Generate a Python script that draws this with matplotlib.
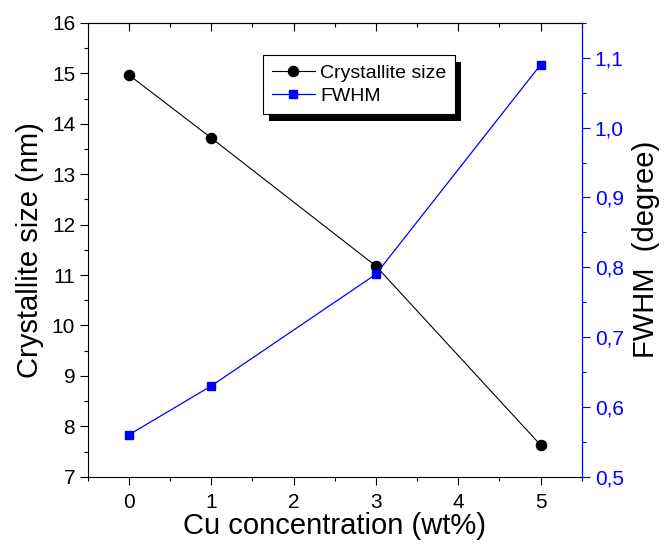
import matplotlib
matplotlib.use("Agg")
import matplotlib.pyplot as plt
from matplotlib.ticker import MultipleLocator, FuncFormatter
from matplotlib.patches import Rectangle

plt.rcParams['font.family'] = ['Liberation Sans', 'DejaVu Sans']

# data
cu = [0, 1, 3, 5]
crystallite = [14.97, 13.72, 11.18, 7.63]
fwhm = [0.56, 0.63, 0.79, 1.09]

fig = plt.figure(figsize=(6.65, 5.51), dpi=100)
ax = fig.add_axes([0.1319, 0.1348, 0.7428, 0.8235])
ax2 = ax.twinx()

l1, = ax.plot(cu, crystallite, '-o', color='black', lw=0.8, ms=7.3)
l2, = ax2.plot(cu, fwhm, '-s', color='blue', lw=0.9, ms=5.8)

ax.set_xlim(-0.5, 5.5)
ax.set_ylim(7, 16)
ax2.set_ylim(0.5, 1.15)

ax.xaxis.set_major_locator(MultipleLocator(1))
ax.xaxis.set_minor_locator(MultipleLocator(0.5))
ax.yaxis.set_major_locator(MultipleLocator(1))
ax.yaxis.set_minor_locator(MultipleLocator(0.5))
ax2.yaxis.set_major_locator(MultipleLocator(0.1))
ax2.yaxis.set_minor_locator(MultipleLocator(0.05))
ax2.yaxis.set_major_formatter(FuncFormatter(lambda v, p: ('%.1f' % v).replace('.', ',')))

ax.tick_params(axis='y', which='major', direction='out', length=5.5, width=0.8,
               labelsize=15, pad=3.5)
ax.tick_params(axis='y', which='minor', direction='out', length=3, width=0.8)
ax.tick_params(axis='x', which='major', direction='out', length=5.5, width=0.8,
               labelsize=15, pad=6)
ax.tick_params(axis='x', which='minor', direction='out', length=3, width=0.8)
ax2.tick_params(axis='y', which='major', direction='out', length=5.5, width=0.8,
                colors='blue', labelsize=15, pad=4)
ax2.tick_params(axis='y', which='minor', direction='out', length=3, width=0.8, colors='blue')

# top axis: inward ticks, no labels
top = ax.secondary_xaxis('top')
top.xaxis.set_major_locator(MultipleLocator(1))
top.xaxis.set_minor_locator(MultipleLocator(0.5))
top.tick_params(axis='x', which='major', direction='in', length=6, width=0.8, labeltop=False)
top.tick_params(axis='x', which='minor', direction='in', length=3, width=0.8)
top.spines['top'].set_linewidth(0.8)

for s in ax.spines.values():
    s.set_linewidth(0.8)
ax2.spines['right'].set_color('blue')
ax2.spines['right'].set_linewidth(0.9)
ax.spines['right'].set_visible(False)
ax2.spines['left'].set_visible(False)
ax2.spines['top'].set_visible(False)
ax2.spines['bottom'].set_visible(False)

ax.set_xlabel('Cu concentration (wt%)', fontsize=21, labelpad=0)
ax.set_ylabel('Crystallite size (nm)', fontsize=21, labelpad=6)
ax2.set_ylabel('FWHM  (degree)', fontsize=21, labelpad=6)

leg = ax2.legend([l1, l2], ['Crystallite size', 'FWHM'], loc='upper left',
                 bbox_to_anchor=(0.355, 0.929), fontsize=14, fancybox=False,
                 shadow=False, framealpha=1, edgecolor='black', borderpad=0.45,
                 labelspacing=0.3, handlelength=2.2, handletextpad=0.3,
                 borderaxespad=0)
leg.get_frame().set_linewidth(0.8)

# hard drop shadow behind the legend box
fig.canvas.draw()
bb = leg.get_window_extent().transformed(fig.transFigure.inverted())
dx, dy = 6 / 665, -7 / 551
ax2.add_patch(Rectangle((bb.x0 + dx, bb.y0 + dy), bb.width, bb.height,
                        transform=fig.transFigure, facecolor='black',
                        edgecolor='none', zorder=4.9, clip_on=False))

fig.savefig('out.png', dpi=100)
